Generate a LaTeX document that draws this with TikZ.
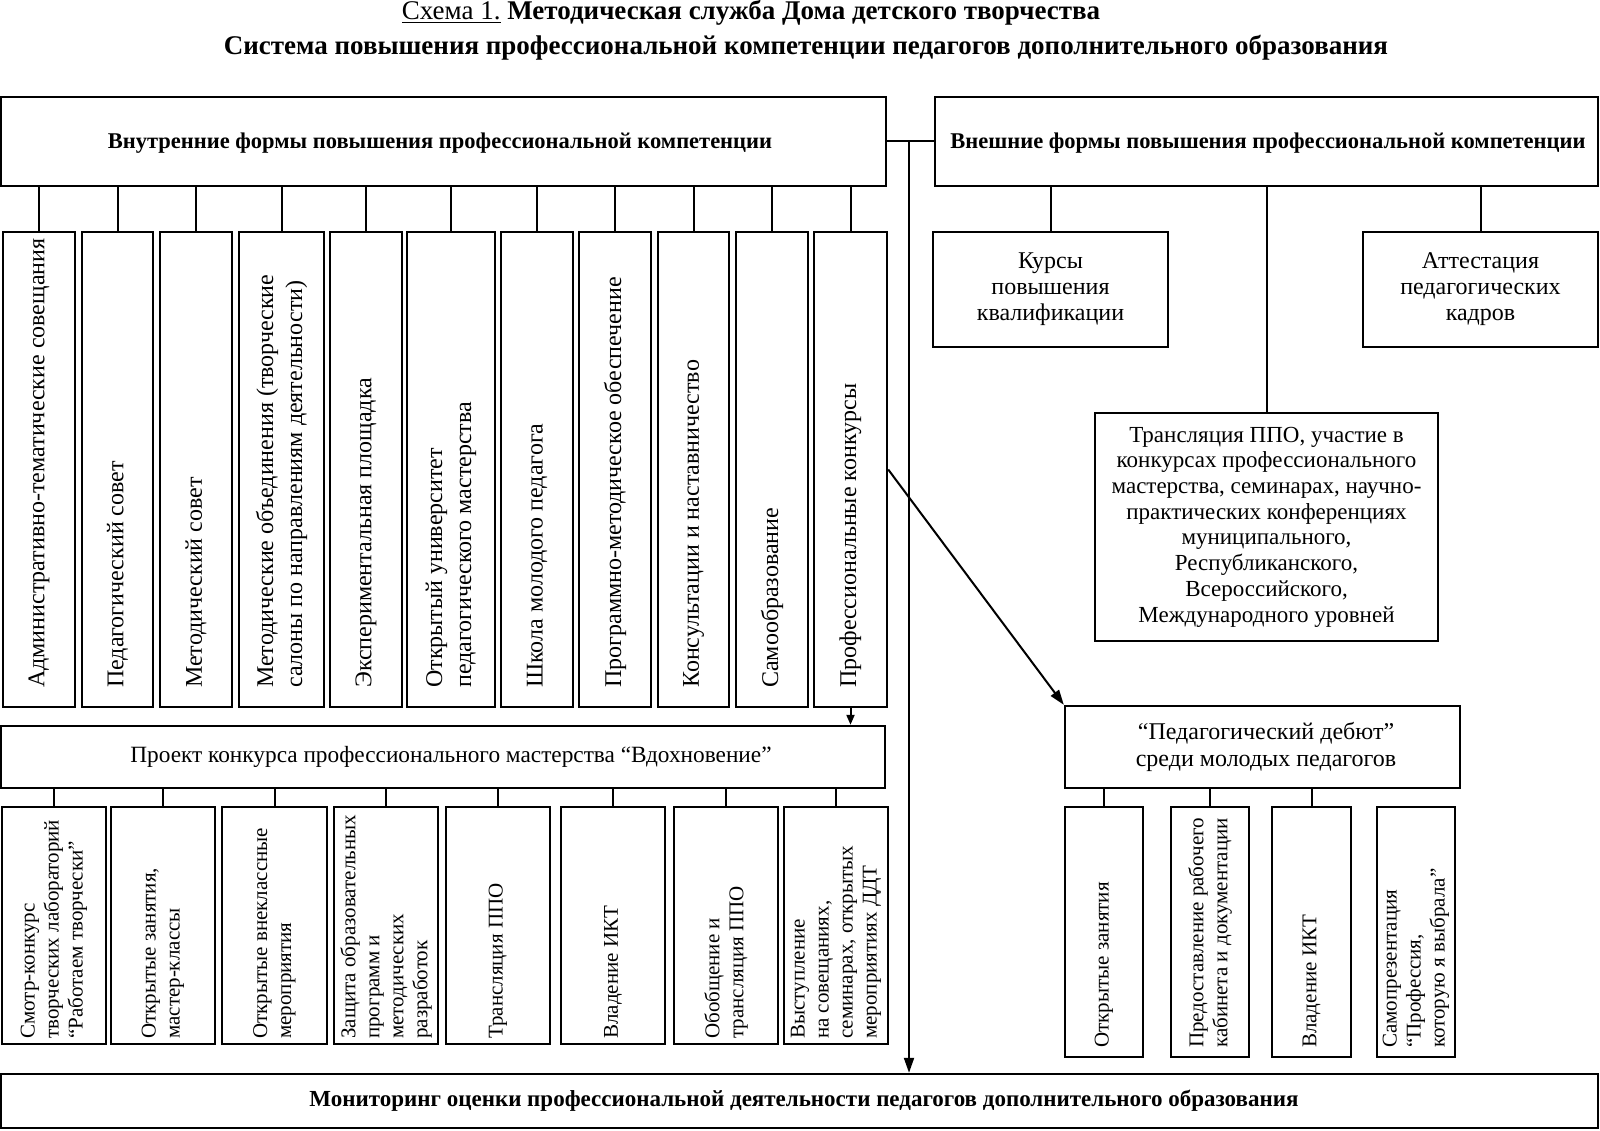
\documentclass[tikz,border=0pt]{standalone}
\usepackage{fontspec}
\setmainfont{Liberation Serif}
\usetikzlibrary{arrows.meta}
\begin{document}
\begin{tikzpicture}[x=1pt,y=-1pt,
  box/.style={draw, line width=2.4pt, rectangle, inner sep=0pt},
  vt/.style={rotate=90, anchor=west, align=left, inner sep=0pt, font=\fontsize{24}{29}\selectfont},
  vb/.style={rotate=90, anchor=west, align=left, inner sep=0pt, font=\fontsize{21}{24}\selectfont},
  ht/.style={align=center, inner sep=0pt, font=\fontsize{24}{26}\selectfont},
  hb/.style={align=center, inner sep=0pt, font=\fontsize{22.5}{26}\selectfont\bfseries},
  ln/.style={line width=2pt},
  arr/.style={line width=2pt, -{Triangle[length=15pt,width=10pt]}},
  sarr/.style={line width=2pt, -{Triangle[length=10pt,width=8pt]}}
]
\useasboundingbox (0,0) rectangle (1600,1131);
\fill[white] (0,0) rectangle (1600,1131);

% titles
\node[anchor=base, inner sep=0pt, font=\fontsize{27}{30}\selectfont] (title1) at (751,20)
  {\underline{Схема 1.} \textbf{Методическая служба Дома детского творчества}};
\node[anchor=base, inner sep=0pt, font=\fontsize{27}{30}\selectfont\bfseries] (title2) at (806,55)
  {Система повышения профессиональной компетенции педагогов дополнительного образования};

% main boxes
\node[box, minimum width=885pt, minimum height=89pt] (inner) at (443.5,141.5) {};
\node[hb] (innert) at (440,143) {Внутренние формы повышения профессиональной компетенции};
\node[box, minimum width=663pt, minimum height=89pt] (ext) at (1266.5,141.5) {};
\node[hb] (extt) at (1268,143) {Внешние формы повышения профессиональной компетенции};

% top row
\node[box, minimum width=72pt, minimum height=475pt] (b1) at (39,469.5) {};
\node[box, minimum width=71pt, minimum height=475pt] (b2) at (117.5,469.5) {};
\node[box, minimum width=72pt, minimum height=475pt] (b3) at (196,469.5) {};
\node[box, minimum width=85pt, minimum height=475pt] (b4) at (281.5,469.5) {};
\node[box, minimum width=72pt, minimum height=475pt] (b5) at (366,469.5) {};
\node[box, minimum width=88pt, minimum height=475pt] (b6) at (451,469.5) {};
\node[box, minimum width=72pt, minimum height=475pt] (b7) at (537,469.5) {};
\node[box, minimum width=72pt, minimum height=475pt] (b8) at (615,469.5) {};
\node[box, minimum width=71pt, minimum height=475pt] (b9) at (693.5,469.5) {};
\node[box, minimum width=72pt, minimum height=475pt] (b10) at (772,469.5) {};
\node[box, minimum width=73pt, minimum height=475pt] (b11) at (850.5,469.5) {};

\node[vt] (t1) at (39,688) {Административно-тематические совещания};
\node[vt] (t2) at (117.5,688) {Педагогический совет};
\node[vt] (t3) at (196,688) {Методический совет};
\node[vt] (t4) at (281.5,688) {Методические объединения (творческие\\салоны по направлениям деятельности)};
\node[vt] (t5) at (366,688) {Экспериментальная площадка};
\node[vt] (t6) at (451,688) {Открытый университет\\педагогического мастерства};
\node[vt] (t7) at (537,688) {Школа молодого педагога};
\node[vt] (t8) at (615,688) {Программно-методическое обеспечение};
\node[vt] (t9) at (693.5,688) {Консультации и наставничество};
\node[vt] (t10) at (772,688) {Самообразование};
\node[vt] (t11) at (850.5,688) {Профессиональные конкурсы};

\foreach \n in {b1,b2,b3,b4,b5,b6,b7,b8,b9,b10,b11}
  \draw[ln] (\n.north) -- (\n.north |- inner.south);

% project
\node[box, minimum width=884pt, minimum height=62pt] (proj) at (443,757) {};
\node[ht, font=\fontsize{23.3}{26}\selectfont] (projt) at (451,757) {Проект конкурса профессионального мастерства “Вдохновение”};
\draw[sarr] (b11.south) -- (b11.south |- proj.north);

% bottom row
\node[box, minimum width=104pt, minimum height=237pt] (c1) at (54,925.5) {};
\node[box, minimum width=104pt, minimum height=237pt] (c2) at (163,925.5) {};
\node[box, minimum width=105pt, minimum height=237pt] (c3) at (274.5,925.5) {};
\node[box, minimum width=104pt, minimum height=237pt] (c4) at (386,925.5) {};
\node[box, minimum width=104pt, minimum height=237pt] (c5) at (498,925.5) {};
\node[box, minimum width=104pt, minimum height=237pt] (c6) at (613,925.5) {};
\node[box, minimum width=104pt, minimum height=237pt] (c7) at (726,925.5) {};
\node[box, minimum width=104pt, minimum height=237pt] (c8) at (836,925.5) {};

\node[vb] (u1) at (54,1039) {Смотр-конкурс\\творческих лабораторий\\“Работаем творчески”};
\node[vb] (u2) at (163,1039) {Открытые занятия,\\мастер-классы};
\node[vb] (u3) at (274.5,1039) {Открытые внеклассные\\мероприятия};
\node[vb] (u4) at (386,1039) {Защита образовательных\\программ и\\методических\\разработок};
\node[vb] (u5) at (498,1039) {Трансляция ППО};
\node[vb] (u6) at (613,1039) {Владение ИКТ};
\node[vb] (u7) at (726,1039) {Обобщение и\\трансляция ППО};
\node[vb] (u8) at (836,1039) {Выступление\\на совещаниях,\\семинарах, открытых\\мероприятиях ДДТ};

\foreach \n in {c1,c2,c3,c4,c5,c6,c7,c8}
  \draw[ln] (\n.north) -- (\n.north |- proj.south);

% monitoring
\node[box, minimum width=1597pt, minimum height=54pt] (mon) at (799.5,1101) {};
\node[hb, font=\fontsize{23}{26}\selectfont\bfseries] (mont) at (804,1101) {Мониторинг оценки профессиональной деятельности педагогов дополнительного образования};

% junction between inner and ext
\draw[ln] (inner.east) -- (ext.west);
\coordinate (vj) at (909,141.5);
\draw[arr] (vj) -- (vj |- mon.north);

% right side
\node[box, minimum width=235pt, minimum height=115pt] (kurs) at (1050.5,289.5) {};
\node[ht] (kurst) at (1050.5,289.5) {Курсы\\повышения\\квалификации};
\node[box, minimum width=235pt, minimum height=115pt] (att) at (1480.5,289.5) {};
\node[ht] (attt) at (1480.5,289.5) {Аттестация\\педагогических\\кадров};
\node[box, minimum width=343pt, minimum height=228pt] (tr) at (1266.5,527) {};
\node[ht, font=\fontsize{23}{25.7}\selectfont] (trt) at (1266.5,527) {Трансляция ППО, участие в\\конкурсах профессионального\\мастерства, семинарах, научно-\\практических конференциях\\муниципального,\\Республиканского,\\Всероссийского,\\Международного уровней};
\draw[ln] (kurs.north) -- (kurs.north |- ext.south);
\draw[ln] (att.north) -- (att.north |- ext.south);
\draw[ln] (tr.north) -- (tr.north |- ext.south);

\node[box, minimum width=395pt, minimum height=82pt] (deb) at (1262.5,747) {};
\node[ht, font=\fontsize{24}{27}\selectfont] (debt) at (1266,747) {“Педагогический дебют”\\среди молодых педагогов};
\draw[arr] (b11.east) -- (deb.north west);

\node[box, minimum width=78pt, minimum height=250pt] (d1) at (1104,932) {};
\node[box, minimum width=78pt, minimum height=250pt] (d2) at (1210,932) {};
\node[box, minimum width=79pt, minimum height=250pt] (d3) at (1311.5,932) {};
\node[box, minimum width=78pt, minimum height=250pt] (d4) at (1416,932) {};
\node[vb] (e1) at (1104,1048) {Открытые занятия};
\node[vb] (e2) at (1210,1048) {Предоставление рабочего\\кабинета и документации};
\node[vb] (e3) at (1311.5,1048) {Владение ИКТ};
\node[vb] (e4) at (1416,1048) {Самопрезентация\\“Профессия,\\которую я выбрала”};
\foreach \n in {d1,d2,d3}
  \draw[ln] (\n.north) -- (\n.north |- deb.south);
\end{tikzpicture}
\end{document}
